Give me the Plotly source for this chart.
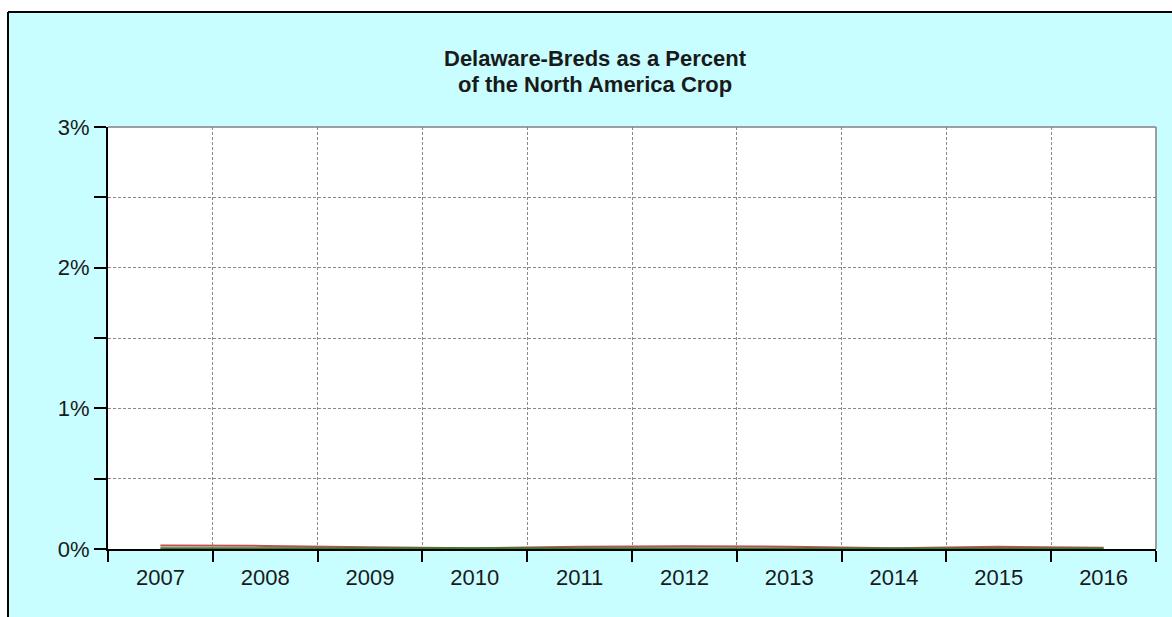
import plotly.graph_objects as go

years = ["2007", "2008", "2009", "2010", "2011", "2012", "2013", "2014", "2015", "2016"]
red_pct = [0.025, 0.022, 0.012, 0.006, 0.016, 0.020, 0.016, 0.006, 0.016, 0.008]
green_pct = [0.006, 0.005, 0.004, 0.003, 0.004, 0.005, 0.004, 0.003, 0.004, 0.004]
y_tickvals = [0, 0.5, 1, 1.5, 2, 2.5, 3]
y_ticktext = ["0%", "", "1%", "", "2%", "", "3%"]
title_lines = ["Delaware-Breds as a Percent", "of the North America Crop"]

W, H = 1172, 617
L, R, T, B = 108, 16, 127, 68
pw, ph = W - L - R, H - T - B

def px_x(p):
    return (p - L) / pw

def px_y(p):
    return (H - B - p) / ph

fig = go.Figure()
fig.add_trace(go.Scatter(x=years, y=red_pct, mode="lines",
                         line=dict(color="#c0504d", width=2), showlegend=False))
fig.add_trace(go.Scatter(x=years, y=green_pct, mode="lines",
                         line=dict(color="#2f7d32", width=2), showlegend=False))

cyan = "#c8feff"
shapes = [
    dict(type="rect", xref="paper", yref="paper", x0=px_x(-5), x1=px_x(W + 5),
         y0=px_y(12), y1=px_y(-5), fillcolor="white", line=dict(width=0), layer="below"),
    dict(type="rect", xref="paper", yref="paper", x0=px_x(-5), x1=px_x(8),
         y0=px_y(H + 5), y1=px_y(-5), fillcolor="white", line=dict(width=0), layer="below"),
    dict(type="line", xref="paper", yref="paper", x0=px_x(8), x1=px_x(W + 5),
         y0=px_y(12), y1=px_y(12), line=dict(color="black", width=2)),
    dict(type="line", xref="paper", yref="paper", x0=px_x(8), x1=px_x(8),
         y0=px_y(12), y1=px_y(H + 5), line=dict(color="black", width=2)),
    dict(type="line", xref="paper", yref="paper", x0=0, x1=1, y0=1, y1=1,
         line=dict(color="#808080", width=1.5)),
    dict(type="line", xref="paper", yref="paper", x0=1, x1=1, y0=0, y1=1,
         line=dict(color="#808080", width=1.5)),
]

title_font = dict(size=22, family="Liberation Sans, Arial", color="#1a1a1a")
annotations = [
    dict(text="<b>" + title_lines[0] + "</b>", xref="paper", yref="paper",
         x=px_x(595), y=px_y(58), xanchor="center", yanchor="middle",
         showarrow=False, font=title_font),
    dict(text="<b>" + title_lines[1] + "</b>", xref="paper", yref="paper",
         x=px_x(595), y=px_y(85), xanchor="center", yanchor="middle",
         showarrow=False, font=title_font),
]

fig.update_layout(
    width=W, height=H,
    margin=dict(l=L, r=R, t=T, b=B, pad=0),
    paper_bgcolor=cyan,
    plot_bgcolor="white",
    font=dict(family="Liberation Sans, Arial", size=22, color="#1a1a1a"),
    shapes=shapes,
    annotations=annotations,
    xaxis=dict(type="category", tickson="boundaries", range=[-0.5, 9.5],
               showgrid=True, gridcolor="#8a8a8a", griddash="3px,2px", gridwidth=1,
               ticks="outside", ticklen=11, tickwidth=2, tickcolor="black",
               ticklabelstandoff=8,
               showline=True, linecolor="black", linewidth=2, zeroline=False,
               fixedrange=True),
    yaxis=dict(range=[0, 3], tickvals=y_tickvals, ticktext=y_ticktext,
               showgrid=True, gridcolor="#8a8a8a", griddash="3px,2px", gridwidth=1,
               ticks="outside", ticklen=12, tickwidth=2, tickcolor="black",
               showline=True, linecolor="black", linewidth=2, zeroline=False,
               fixedrange=True),
)

fig.write_html("out.html", config={"displayModeBar": False},
               post_script="document.body.style.margin='0px';")
